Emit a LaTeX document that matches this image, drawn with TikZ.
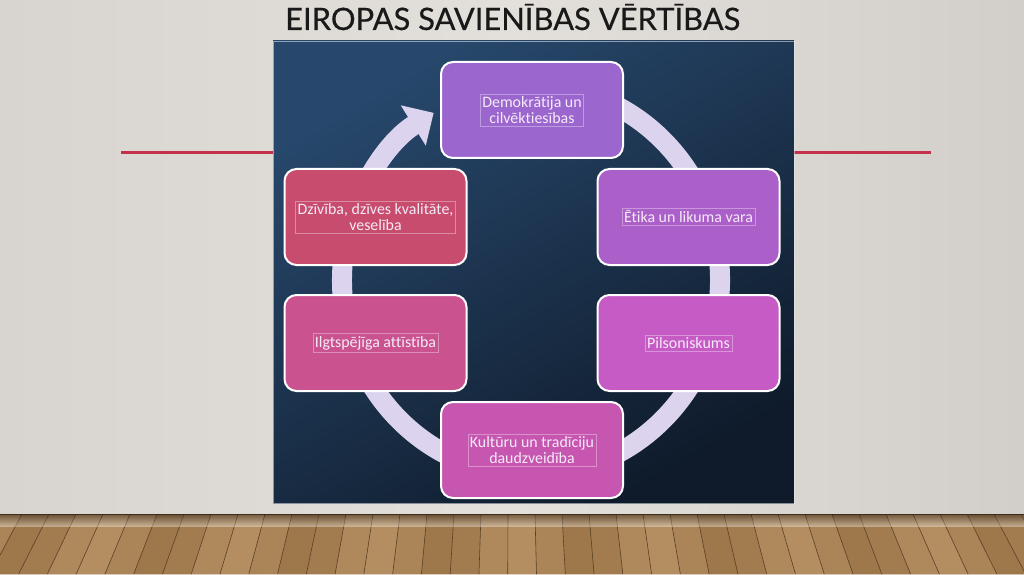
\documentclass[tikz,border=0pt]{standalone}
\usepackage{fontspec}
\setmainfont{Carlito}[Ligatures=CommonOff]
\newfontfamily\titlefont{Lato}[FakeBold=0.5]
\usetikzlibrary{arrows.meta,calc}
\definecolor{bgL}{HTML}{D8D5D0}
\definecolor{bgM}{HTML}{E3E0DB}
\definecolor{bgR}{HTML}{D2CFCA}
\definecolor{panelT}{HTML}{27486C}
\definecolor{panelB}{HTML}{0F1B2B}
\definecolor{redline}{HTML}{C4314B}
\definecolor{ringc}{HTML}{DCD4EE}
\definecolor{txtc}{HTML}{F5EBF8}
\definecolor{cDemo}{HTML}{9B66CE}
\definecolor{cEtika}{HTML}{AB5FC9}
\definecolor{cPils}{HTML}{C65BC6}
\definecolor{cKult}{HTML}{C656B0}
\definecolor{cIlgt}{HTML}{C9528F}
\definecolor{cDziv}{HTML}{C84C6D}
\definecolor{floorbase}{HTML}{A8825A}
\definecolor{plank0}{HTML}{AB8558}
\definecolor{plank1}{HTML}{A27B4F}
\definecolor{plank2}{HTML}{B48E61}
\definecolor{plank3}{HTML}{9E774A}
\definecolor{plank4}{HTML}{AF895C}
\definecolor{plankline}{HTML}{5A4026}
\tikzset{
  valbox/.style={draw=white, line width=2pt, rounded corners=12pt, minimum width=182pt, minimum height=96pt, inner sep=0pt},
  vallbl/.style={draw=white, draw opacity=0.35, line width=0.5pt, text=txtc, font=\fontsize{15.9}{15.5}\selectfont, align=center, inner xsep=2pt, inner ysep=2.5pt},
  ringline/.style={draw=ringc, line width=20pt, -{Triangle[width=46pt,length=24pt]}},
  floorline/.style={draw=plankline, line width=0.6pt}
}
\begin{document}
\begin{tikzpicture}[x=1pt,y=1pt]
\useasboundingbox (0,0) rectangle (1024,574);
% wall
\shade[left color=bgL, right color=bgR, middle color=bgM] (0,0) rectangle (1024,574);
% floor
\begin{scope}
\clip (0,0) rectangle (1024,60);
\fill[floorbase] (0,0) rectangle (1024,60);
\foreach \i in {-25,...,45} {
  \pgfmathsetmacro\xa{\i*27-5}
  \pgfmathsetmacro\xb{\xa+27}
  \pgfmathsetmacro\xc{512+(\xa-512)*1.0656}
  \pgfmathsetmacro\xd{512+(\xb-512)*1.0656}
  \pgfmathtruncatemacro\k{mod(\i*3+75,5)}
  \fill[plank\k] (\xa,60) -- (\xb,60) -- (\xd,0) -- (\xc,0) -- cycle;
  \draw[floorline] (\xa,60) -- (\xc,0);
}
\shade[top color=black, bottom color=black!0, opacity=0.35] (0,48) rectangle (1024,60);
\end{scope}
\draw[plankline!70!black, line width=1.5pt] (0,59.5) -- (1024,59.5);
% red lines
\draw[redline, line width=3pt] (121,421) -- (273,421);
\draw[redline, line width=3pt] (794,421) -- (931,421);
% panel
\shade[top color=panelT, bottom color=panelB, shading angle=30] (273,71) rectangle (794,533);
\draw[white, opacity=0.5, line width=0.6pt] (273,71) rectangle (794,533);
% title
\node[anchor=base west, inner sep=0pt, text=black!90] (title) at (285,544) {\resizebox{455pt}{!}{\titlefont EIROPAS SAVIENĪBAS VĒRTĪBAS}};
% ring
\coordinate (C) at (531,294);
\draw[ringline] ($(C)+(80:189 and 195)$) arc[start angle=80, end angle=-239, x radius=189, y radius=195];
% boxes
\node[valbox, fill=cDemo] (demo) at (532,464) {};
\node[valbox, fill=cEtika] (etika) at (688.5,357) {};
\node[valbox, fill=cPils] (pils) at (688.5,231) {};
\node[valbox, fill=cKult] (kult) at (532,124) {};
\node[valbox, fill=cIlgt] (ilgt) at (375.5,231) {};
\node[valbox, fill=cDziv] (dziv) at (375.5,357) {};
\node[vallbl] (tdemo) at (demo) {Demokrātija un\\cilvēktiesības};
\node[vallbl] (tetika) at (etika) {Ētika un likuma vara};
\node[vallbl] (tpils) at (pils) {Pilsoniskums};
\node[vallbl] (tkult) at (kult) {Kultūru un tradīciju\\daudzveidība};
\node[vallbl] (tilgt) at (ilgt) {Ilgtspējīga attīstība};
\node[vallbl] (tdziv) at (dziv) {Dzīvība, dzīves kvalitāte,\\veselība};
\end{tikzpicture}
\end{document}
